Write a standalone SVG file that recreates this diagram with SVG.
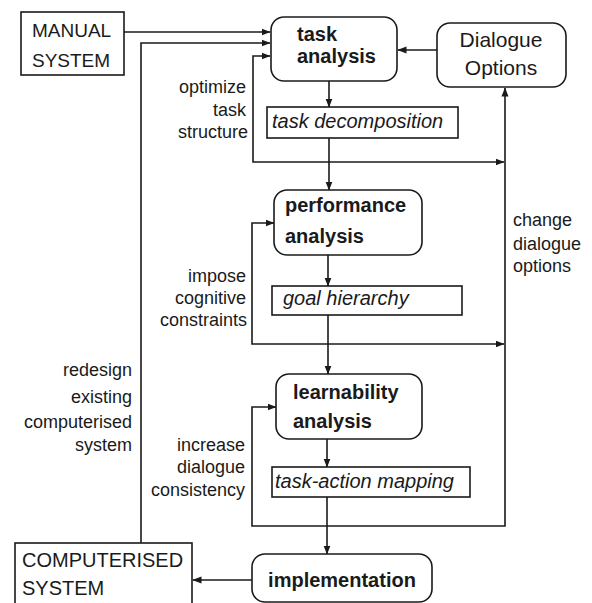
<svg xmlns="http://www.w3.org/2000/svg" width="592" height="603" viewBox="0 0 592 603">
<style>
.box{fill:#fff;stroke:#1a1a1a;stroke-width:1.6}
.ln{fill:none;stroke:#1a1a1a;stroke-width:1.6}
text{font-family:"Liberation Sans",Arial,sans-serif;fill:#1a1a1a}
.b{font-weight:bold;font-size:20px}
.i{font-style:italic;font-size:20px}
.l{font-size:18px}
.cap{font-size:19px}
.r{text-anchor:end}
</style>
<defs>
<marker id="ah" markerWidth="9" markerHeight="8" refX="8.5" refY="4" orient="auto" markerUnits="userSpaceOnUse">
<path d="M0,0.5 L9,4 L0,7.5 Z" fill="#1a1a1a"/>
</marker>
</defs>
<rect width="592" height="603" fill="#fff"/>

<g id="connectors">
<path class="ln" d="M124,32 H270" marker-end="url(#ah)"/>
<path class="ln" d="M141,543 V43 H270" marker-end="url(#ah)"/>
<path class="ln" d="M329,162 H253 V56 H270" marker-end="url(#ah)"/>
<path class="ln" d="M329,162 H504" marker-end="url(#ah)"/>
<path class="ln" d="M437,50 H398" marker-end="url(#ah)"/>
<path class="ln" d="M329,81 V107" marker-end="url(#ah)"/>
<path class="ln" d="M329,138 V190" marker-end="url(#ah)"/>
<path class="ln" d="M328,344 H252 V223 H274" marker-end="url(#ah)"/>
<path class="ln" d="M328,344 H504" marker-end="url(#ah)"/>
<path class="ln" d="M328,255 V286" marker-end="url(#ah)"/>
<path class="ln" d="M328,315 V374" marker-end="url(#ah)"/>
<path class="ln" d="M327,526 H252 V407 H276" marker-end="url(#ah)"/>
<path class="ln" d="M327,526 H505 V88" marker-end="url(#ah)"/>
<path class="ln" d="M327,439 V467" marker-end="url(#ah)"/>
<path class="ln" d="M327,497 V554" marker-end="url(#ah)"/>
<path class="ln" d="M252,580 H193" marker-end="url(#ah)"/>
</g>

<g id="labels">
<text class="l r" x="246" y="93">optimize</text>
<text class="l r" x="246" y="116">task</text>
<text class="l r" x="248" y="138">structure</text>
<text class="l r" x="246" y="282">impose</text>
<text class="l r" x="246" y="304">cognitive</text>
<text class="l r" x="247" y="326">constraints</text>
<text class="l r" x="132" y="376">redesign</text>
<text class="l r" x="132" y="403">existing</text>
<text class="l r" x="132" y="428">computerised</text>
<text class="l r" x="132" y="451">system</text>
<text class="l r" x="245" y="451">increase</text>
<text class="l r" x="245" y="473">dialogue</text>
<text class="l r" x="245" y="496">consistency</text>
<text class="l" x="513" y="226">change</text>
<text class="l" x="513" y="250">dialogue</text>
<text class="l" x="513" y="272">options</text>
</g>

<g id="manual-system">
<rect class="box" x="21" y="12" width="103" height="63"/>
<text class="cap" x="32" y="37">MANUAL</text>
<text class="cap" x="32" y="67">SYSTEM</text>
</g>

<g id="task-analysis">
<rect class="box" x="271" y="17" width="126" height="64" rx="13"/>
<text class="b" x="297" y="41">task</text>
<text class="b" x="297" y="63">analysis</text>
</g>

<g id="dialogue-options">
<rect class="box" x="437" y="23" width="129" height="64" rx="13"/>
<text x="501" y="47" font-size="21" text-anchor="middle">Dialogue</text>
<text x="501" y="75" font-size="21" text-anchor="middle">Options</text>
</g>

<g id="task-decomposition">
<rect class="box" x="267" y="107" width="191" height="31"/>
<text class="i" x="272" y="128">task decomposition</text>
</g>

<g id="performance-analysis">
<rect class="box" x="274" y="190" width="148" height="65" rx="13"/>
<text class="b" x="285" y="212">performance</text>
<text class="b" x="285" y="243">analysis</text>
</g>

<g id="goal-hierarchy">
<rect class="box" x="272" y="286" width="190" height="29"/>
<text class="i" x="283" y="305">goal hierarchy</text>
</g>

<g id="learnability-analysis">
<rect class="box" x="276" y="374" width="146" height="65" rx="13"/>
<text class="b" x="293" y="399">learnability</text>
<text class="b" x="293" y="428">analysis</text>
</g>

<g id="task-action-mapping">
<rect class="box" x="272" y="467" width="198" height="30"/>
<text class="i" x="275" y="488">task-action mapping</text>
</g>

<g id="implementation">
<rect class="box" x="252" y="554" width="180" height="48" rx="13"/>
<text class="b" x="342" y="587" text-anchor="middle">implementation</text>
</g>

<g id="computerised-system">
<rect class="box" x="15" y="543" width="177" height="65"/>
<text x="22" y="567" font-size="20">COMPUTERISED</text>
<text x="22" y="595" font-size="20">SYSTEM</text>
</g>
</svg>
